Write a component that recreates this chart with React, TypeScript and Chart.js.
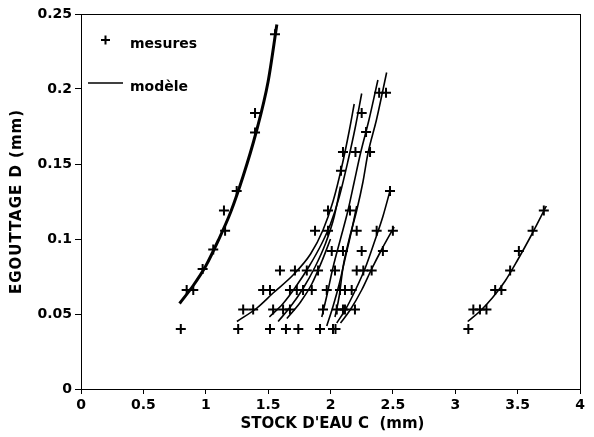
import React, { useEffect, useRef } from "react";
import { Chart, registerables } from "chart.js";

Chart.register(...registerables);

// ---- measurements (C in mm, D in mm) ----
const leftC = [0.8, 0.847, 0.9, 0.975, 1.06, 1.155, 1.146, 1.248, 1.395, 1.395, 1.555];
const leftD = [0.04, 0.066, 0.066, 0.08, 0.093, 0.1055, 0.119, 0.132, 0.171, 0.184, 0.2365];

const midC = [
  1.26, 1.515, 1.643, 1.742, 1.916, 2.02, 2.04,
  1.3, 1.38, 1.54, 1.62, 1.675, 1.94, 2.05, 2.1, 2.116, 2.196,
  1.46, 1.515, 1.675, 1.73, 1.78, 1.85, 1.97, 2.076, 2.116, 2.17,
  1.595, 1.715, 1.81, 1.9, 2.036, 2.21, 2.263, 2.33,
  2.01, 2.1, 2.25, 2.42,
  1.876, 1.98, 2.21, 2.37, 2.5,
  1.98, 2.156,
  2.477,
  2.084,
  2.1, 2.2, 2.317,
  2.285,
  2.25,
  2.39, 2.445,
];
const midD = [
  0.04, 0.04, 0.04, 0.04, 0.04, 0.04, 0.04,
  0.053, 0.053, 0.053, 0.053, 0.053, 0.053, 0.053, 0.053, 0.053, 0.053,
  0.066, 0.066, 0.066, 0.066, 0.066, 0.066, 0.066, 0.066, 0.066, 0.066,
  0.079, 0.079, 0.079, 0.079, 0.079, 0.079, 0.079, 0.079,
  0.092, 0.092, 0.092, 0.092,
  0.1055, 0.1055, 0.1055, 0.1055, 0.1055,
  0.119, 0.119,
  0.132,
  0.1455,
  0.158, 0.158, 0.158,
  0.1713,
  0.184,
  0.1975, 0.1975,
];

const rightC = [3.105, 3.145, 3.198, 3.25, 3.32, 3.37, 3.44, 3.51, 3.62, 3.71];
const rightD = [0.04, 0.053, 0.053, 0.053, 0.066, 0.066, 0.079, 0.092, 0.1055, 0.119];

// ---- model curves ----
const modelLeftC = [0.79, 0.9, 1.0, 1.1, 1.2, 1.3, 1.4, 1.5, 1.57];
const modelLeftD = [0.057, 0.069, 0.082, 0.099, 0.118, 0.142, 0.17, 0.205, 0.243];

const modelAC = [1.25, 1.41, 1.54, 1.7, 1.84, 1.94, 2.02, 2.09, 2.15, 2.19];
const modelAD = [0.045, 0.054, 0.064, 0.076, 0.09, 0.106, 0.125, 0.148, 0.172, 0.19];
const modelBC = [1.51, 1.62, 1.72, 1.83, 1.93, 2.0, 2.07, 2.14, 2.2, 2.25];
const modelBD = [0.048, 0.057, 0.068, 0.082, 0.097, 0.11, 0.128, 0.152, 0.175, 0.197];
const modelCC = [1.58, 1.68, 1.78, 1.88, 1.96, 2.03, 2.08];
const modelCD = [0.045, 0.055, 0.067, 0.082, 0.097, 0.115, 0.135];
const modelDC = [1.65, 1.76, 1.85, 1.93, 2.0];
const modelDD = [0.047, 0.058, 0.07, 0.085, 0.1];
const modelEC = [1.93, 1.97, 2.02, 2.08, 2.14, 2.19, 2.24, 2.31, 2.38];
const modelED = [0.048, 0.062, 0.081, 0.1, 0.119, 0.138, 0.157, 0.18, 0.206];
const modelFC = [2.036, 2.07, 2.1, 2.15, 2.21, 2.26, 2.3, 2.37, 2.45];
const modelFD = [0.048, 0.062, 0.081, 0.1, 0.119, 0.138, 0.157, 0.18, 0.211];
const modelGC = [1.97, 2.02, 2.07, 2.12, 2.17, 2.21];
const modelGD = [0.042, 0.055, 0.07, 0.088, 0.106, 0.122];
const modelHC = [2.05, 2.12, 2.2, 2.28, 2.36, 2.42, 2.48];
const modelHD = [0.044, 0.053, 0.066, 0.081, 0.1, 0.115, 0.133];
const modelIC = [2.08, 2.16, 2.25, 2.33, 2.41, 2.51];
const modelID = [0.044, 0.053, 0.066, 0.08, 0.093, 0.108];

const modelRightC = [3.1, 3.2, 3.3, 3.4, 3.5, 3.6, 3.73];
const modelRightD = [0.045, 0.052, 0.061, 0.072, 0.086, 0.101, 0.122];

const xTitle = "STOCK D'EAU C  (mm)";
const yTitle = "EGOUTTAGE D (mm)";
const legendMeasures = "mesures";
const legendModel = "modèle";

const FONT = "'DejaVu Sans', sans-serif";

const zip = (xs: number[], ys: number[]) => xs.map((x, i) => ({ x, y: ys[i] }));

const lineDs = (xs: number[], ys: number[], w = 1.6) => ({
  type: "line" as const,
  data: zip(xs, ys),
  borderColor: "#000",
  borderWidth: w,
  pointRadius: 0,
  cubicInterpolationMode: "monotone" as const,
  fill: false,
  order: 2,
});

const pointDs = (xs: number[], ys: number[]) => ({
  type: "scatter" as const,
  data: zip(xs, ys),
  pointStyle: "cross" as const,
  pointRadius: 5,
  borderWidth: 2,
  borderColor: "#000",
  backgroundColor: "#000",
  showLine: false,
  order: 1,
});

const fmt = (v: number | string) => String(Number(Number(v).toFixed(3)));

const framePlugin = {
  id: "frame",
  afterDraw(chart: any) {
    const { ctx, chartArea: a } = chart;
    ctx.save();
    ctx.strokeStyle = "#000";
    ctx.lineWidth = 1;
    ctx.strokeRect(a.left + 0.5, a.top + 0.5, a.right - a.left, a.bottom - a.top);
    // legend
    ctx.lineWidth = 2;
    ctx.beginPath();
    ctx.moveTo(101, 40);
    ctx.lineTo(110, 40);
    ctx.moveTo(105.5, 35.5);
    ctx.lineTo(105.5, 44.5);
    ctx.stroke();
    ctx.lineWidth = 1.6;
    ctx.beginPath();
    ctx.moveTo(88, 83);
    ctx.lineTo(123, 83);
    ctx.stroke();
    ctx.fillStyle = "#000";
    ctx.font = `bold 14px ${FONT}`;
    ctx.textBaseline = "middle";
    ctx.textAlign = "left";
    ctx.fillText(legendMeasures, 130, 44);
    ctx.fillText(legendModel, 130, 87);
    // axis titles
    ctx.font = `bold 15px ${FONT}`;
    ctx.textAlign = "center";
    ctx.fillText(xTitle, (a.left + a.right) / 2 + 2, 424);
    ctx.save();
    ctx.translate(17, (a.top + a.bottom) / 2);
    ctx.rotate(-Math.PI / 2);
    ctx.font = `bold 15px ${FONT}`;
    (ctx as any).letterSpacing = "1px";
    ctx.fillText(yTitle, 0, 0);
    ctx.restore();
    ctx.restore();
  },
};

export default function App() {
  const ref = useRef<HTMLCanvasElement>(null);
  useEffect(() => {
    if (!ref.current) return;
    const chart = new Chart(ref.current, {
      type: "scatter",
      data: {
        datasets: [
          pointDs(leftC, leftD),
          pointDs(midC, midD),
          pointDs(rightC, rightD),
          lineDs(modelLeftC, modelLeftD, 3),
          lineDs(modelAC, modelAD),
          lineDs(modelBC, modelBD),
          lineDs(modelCC, modelCD),
          lineDs(modelDC, modelDD),
          lineDs(modelEC, modelED),
          lineDs(modelFC, modelFD),
          lineDs(modelGC, modelGD),
          lineDs(modelHC, modelHD),
          lineDs(modelIC, modelID),
          lineDs(modelRightC, modelRightD),
        ] as any,
      },
      options: {
        animation: false,
        responsive: false,
        layout: { padding: { left: 0, top: 14, right: 14, bottom: 0 } },
        plugins: { legend: { display: false }, tooltip: { enabled: false } },
        scales: {
          x: {
            type: "linear",
            min: 0,
            max: 4,
            border: { display: false },
            grid: { drawOnChartArea: false, drawTicks: true, tickLength: 5, color: "#000" },
            ticks: {
              stepSize: 0.5,
              color: "#000",
              padding: 3,
              maxRotation: 0,
              callback: (v: any) => fmt(v),
              font: { family: FONT, size: 14, weight: "bold" },
            },
            afterFit(scale: any) {
              scale.height = 48;
            },
          },
          y: {
            type: "linear",
            min: 0,
            max: 0.25,
            border: { display: false },
            grid: { drawOnChartArea: false, drawTicks: true, tickLength: 6, color: "#000" },
            ticks: {
              stepSize: 0.05,
              color: "#000",
              padding: 3,
              callback: (v: any) => fmt(v),
              font: { family: FONT, size: 14, weight: "bold" },
            },
            afterFit(scale: any) {
              scale.width = 81;
            },
          },
        },
      },
      plugins: [framePlugin],
    });
    return () => chart.destroy();
  }, []);
  return (
    <div style={{ position: "absolute", left: 0, top: 0, width: 594, height: 437, background: "#fff" }}>
      <canvas ref={ref} width={594} height={437} style={{ display: "block" }} />
    </div>
  );
}
